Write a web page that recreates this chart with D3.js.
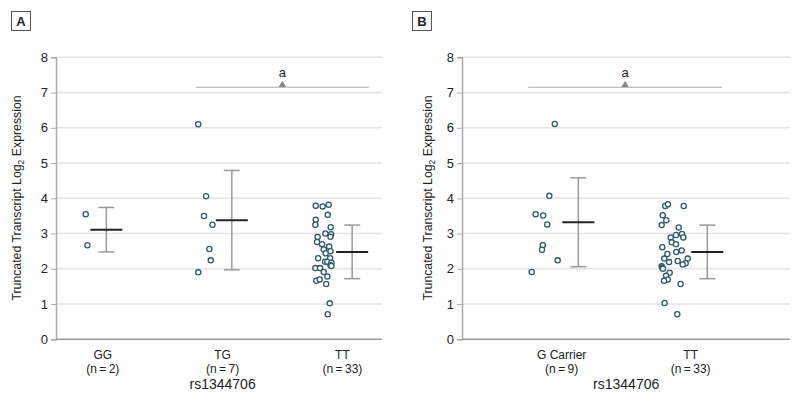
<!DOCTYPE html>
<html><head><meta charset="utf-8">
<script src="https://cdn.jsdelivr.net/npm/d3@7"></script>
<style>
body{margin:0;background:#fff;}
text{font-family:"Liberation Sans",Arial,sans-serif;fill:#222;}
</style></head>
<body><svg id="c" width="800" height="407"></svg>
<script>
// ---------- DATA ----------
const yTicks = [0,1,2,3,4,5,6,7,8];
const xAxisTitle = "rs1344706";
const yAxisTitle = ["Truncated Transcript Log", "2", " Expression"];

// Panel A
const catsA = ["GG","TG","TT"];
const nA = ["(n\u2009=\u20092)","(n\u2009=\u20097)","(n\u2009=\u200933)"];
const valsA_GG = [3.55, 2.67];
const jitA_GG = [-0.142, -0.128];
const valsA_TG = [6.10, 4.06, 3.50, 3.25, 2.56, 2.24, 1.90];
const jitA_TG = [-0.203, -0.138, -0.155, -0.085, -0.110, -0.099, -0.203];
const valsA_TT = [3.79,3.77,3.82,3.53,3.39,3.25,3.18,3.00,2.98,2.91,2.90,2.76,2.70,2.63,2.55,2.50,2.44,2.30,2.30,2.20,2.20,2.17,2.02,2.02,2.10,2.08,1.91,1.78,1.66,1.70,1.57,1.02,0.71];
const jitA_TT = [-0.223,-0.165,-0.115,-0.123,-0.223,-0.226,-0.098,-0.142,-0.095,-0.100,-0.207,-0.212,-0.170,-0.111,-0.156,-0.100,-0.140,-0.203,-0.103,-0.145,-0.126,-0.092,-0.226,-0.187,-0.100,-0.092,-0.156,-0.126,-0.218,-0.190,-0.136,-0.106,-0.123];
const meanA = [3.11, 3.38, 2.48];
const sdA = [0.63, 1.41, 0.76];
const errOffA = [0.03, 0.077, 0.081];
const sigA = {from:1, to:2, level:7.15, label:"a"};

// Panel B
const catsB = ["G Carrier","TT"];
const nB = ["(n\u2009=\u20099)","(n\u2009=\u200933)"];
const valsB_G = [6.11, 4.07, 3.55, 3.51, 3.26, 2.67, 2.54, 2.24, 1.91];
const jitB_G = [-0.054,-0.096,-0.202,-0.143,-0.112,-0.147,-0.153,-0.031,-0.233];
const valsB_TT = [3.78,3.83,3.78,3.52,3.38,3.24,3.17,2.96,2.99,2.89,2.89,2.75,2.70,2.61,2.52,2.48,2.42,2.29,2.19,2.22,2.29,2.16,2.12,2.07,2.03,2.00,1.89,1.80,1.70,1.66,1.57,1.03,0.71];
const jitB_TT = [-0.197,-0.176,-0.054,-0.217,-0.189,-0.225,-0.093,-0.114,-0.067,-0.057,-0.155,-0.147,-0.114,-0.220,-0.070,-0.112,-0.181,-0.205,-0.168,-0.101,-0.023,-0.039,-0.062,-0.225,-0.220,-0.215,-0.163,-0.191,-0.178,-0.207,-0.078,-0.202,-0.104];
const meanB = [3.32, 2.48];
const sdB = [1.26, 0.76];
const errOffB = [0.129, 0.129];
const sigB = {from:0, to:1, level:7.15, label:"a"};

// ---------- DRAW ----------
const svg = d3.select("#c");
const y = d3.scaleLinear().domain([0,8]).range([339.3, 57.3]);

function panel(opt){
  const g = svg.append("g");
  const x = d3.scaleLinear().domain(opt.xDomain).range([opt.left, opt.right]);
  // panel letter
  g.append("rect").attr("x",opt.boxX+0.5).attr("y",11.5).attr("width",19).attr("height",19)
    .attr("fill","#fff").attr("stroke","#555").attr("stroke-width",1);
  g.append("text").attr("x",opt.boxX+10).attr("y",25.5).attr("text-anchor","middle")
    .style("font-weight","bold").style("font-size","13px").text(opt.letter);
  // grid
  g.selectAll(".grid").data(yTicks.filter(d=>d>0)).enter().append("line")
    .attr("x1",opt.left).attr("x2",opt.right).attr("y1",d=>y(d)).attr("y2",d=>y(d))
    .attr("stroke","#e3e3e3").attr("stroke-width",1.5);
  // y axis
  const ya = g.append("g").attr("transform",`translate(${opt.left},0)`)
    .call(d3.axisLeft(y).tickValues(yTicks).tickSize(5).tickPadding(3).tickFormat(d3.format("d")));
  ya.select(".domain").attr("stroke","#aaa").attr("stroke-width",1.5);
  ya.selectAll(".tick line").attr("stroke","#aaa");
  ya.selectAll(".tick text").style("font-size","13px").attr("fill","#222");
  // x baseline
  g.append("line").attr("x1",opt.left).attr("x2",opt.right).attr("y1",y(0)).attr("y2",y(0))
    .attr("stroke","#999").attr("stroke-width",1.5);
  // category labels
  opt.cats.forEach((c,i)=>{
    g.append("text").attr("x",x(i)).attr("y",359).attr("text-anchor","middle").style("font-size","12px").text(c);
    g.append("text").attr("x",x(i)).attr("y",372.5).attr("text-anchor","middle").style("font-size","12px").text(opt.ns[i]);
  });
  g.append("text").attr("x",(x(0)+x(opt.cats.length-1))/2).attr("y",388.5).attr("text-anchor","middle")
    .style("font-size","14px").text(xAxisTitle);
  // y title
  const t = g.append("text").attr("transform",`translate(${opt.titleX},198) rotate(-90)`)
    .attr("text-anchor","middle").style("font-size","12.3px");
  t.append("tspan").text(yAxisTitle[0]);
  t.append("tspan").attr("dy",3).style("font-size","8.5px").text(yAxisTitle[1]);
  t.append("tspan").attr("dy",-3).text(yAxisTitle[2]);
  // significance
  const s = opt.sig;
  const sx1 = x(s.from - opt.sigPad[0]), sx2 = x(s.to + opt.sigPad[1]), sm = (sx1+sx2)/2;
  g.append("line").attr("x1",sx1).attr("x2",sx2).attr("y1",y(s.level)).attr("y2",y(s.level))
    .attr("stroke","#aaa").attr("stroke-width",1.2);
  g.append("path").attr("d",d3.symbol().type(d3.symbolTriangle).size(24))
    .attr("transform",`translate(${sm},${y(s.level)-2.3})`).attr("fill","#888");
  g.append("text").attr("x",sm).attr("y",y(7.45)).attr("text-anchor","middle").style("font-size","13px").text(s.label);
  // error bars and means
  opt.groups.forEach((gr,i)=>{
    const ex = x(i + opt.errOff[i]);
    const top = y(opt.means[i]+opt.sds[i]), bot = y(opt.means[i]-opt.sds[i]);
    const eb = g.append("g").attr("stroke","#999").attr("stroke-width",1.5);
    eb.append("line").attr("x1",ex).attr("x2",ex).attr("y1",top).attr("y2",bot);
    eb.append("line").attr("x1",ex-8).attr("x2",ex+8).attr("y1",top).attr("y2",top);
    eb.append("line").attr("x1",ex-8).attr("x2",ex+8).attr("y1",bot).attr("y2",bot);
    g.append("line").attr("x1",ex-16).attr("x2",ex+16).attr("y1",y(opt.means[i])).attr("y2",y(opt.means[i]))
      .attr("stroke","#222").attr("stroke-width",2);
    // points
    g.selectAll(null).data(gr.vals.map((v,k)=>({v, j:gr.jit[k]}))).enter().append("circle")
      .attr("cx",d=>x(i+d.j)).attr("cy",d=>y(d.v)).attr("r",2.6)
      .attr("fill","#fff").attr("stroke","#2e5a6b").attr("stroke-width",1.3);
  });
}

panel({letter:"A", boxX:11, left:56, right:382, xDomain:[-0.39,2.33], titleX:21,
  cats:catsA, ns:nA, sig:sigA, sigPad:[0.222,0.22], errOff:errOffA, means:meanA, sds:sdA,
  groups:[{vals:valsA_GG,jit:jitA_GG},{vals:valsA_TG,jit:jitA_TG},{vals:valsA_TT,jit:jitA_TT}]});
panel({letter:"B", boxX:412, left:462, right:790, xDomain:[-0.773,1.77], titleX:432,
  cats:catsB, ns:nB, sig:sigB, sigPad:[0.26,0.243], errOff:errOffB, means:meanB, sds:sdB,
  groups:[{vals:valsB_G,jit:jitB_G},{vals:valsB_TT,jit:jitB_TT}]});
</script></body></html>
